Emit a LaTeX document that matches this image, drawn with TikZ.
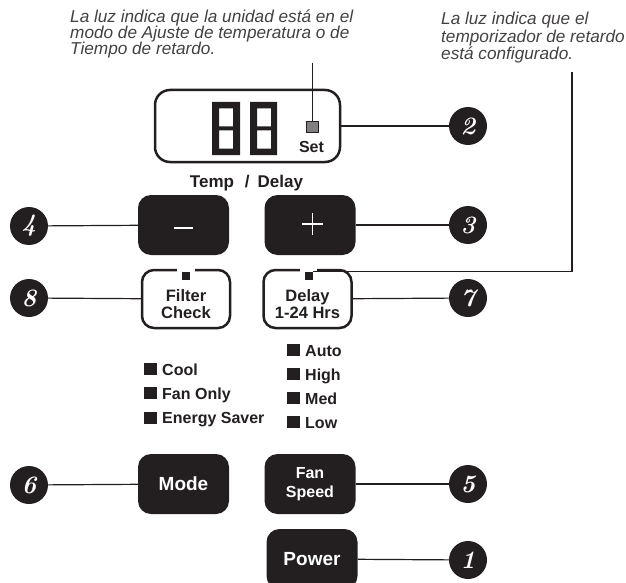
\documentclass[tikz,border=0pt]{standalone}
\usepackage{fontspec}
\setsansfont{Liberation Sans}
\usetikzlibrary{positioning}
\definecolor{ink}{RGB}{35,31,32}
\newcommand{\ledsq}{\rule{12.5pt}{12pt}\hspace{5.5pt}}

\begin{document}
\begin{tikzpicture}[x=1pt,y=-1pt,
  conn/.style={draw=ink,line width=1.2pt},
  btn/.style={fill=ink,text=white,rounded corners=13pt,minimum width=91pt,minimum height=60pt,inner sep=0pt,align=center,font=\sffamily\bfseries\fontsize{19}{19}\selectfont},
  obtn/.style={draw=ink,fill=white,line width=2.5pt,rounded corners=12pt,minimum width=88pt,minimum height=58pt,inner sep=0pt},
  btxt/.style={inner sep=0pt,align=center,text=ink,font=\sffamily\bfseries\fontsize{16.5}{16.5}\selectfont},
  led/.style={fill=ink,minimum size=8pt,inner sep=0pt},
  numc/.style={circle,fill=ink,text=white,minimum size=38pt,inner sep=0pt,font=\rmfamily\bfseries\itshape\fontsize{25}{25}\selectfont},
  mitem/.style={anchor=base west,inner sep=0pt,text=ink,font=\sffamily\bfseries\fontsize{16}{16}\selectfont},
  note/.style={anchor=north west,inner sep=0pt,align=left,text=ink!85,font=\sffamily\itshape\fontsize{17.2}{17.5}\selectfont}]
\useasboundingbox (0,0) rectangle (626,583);

% notes on top
\node[note,font=\sffamily\itshape\fontsize{17.2}{16.3}\selectfont] (noteleft) at (70,9.5) {La luz indica que la unidad está en el\\modo de Ajuste de temperatura o de\\Tiempo de retardo.};
\node[note] (noteright) at (441,12.3) {La luz indica que el\\temporizador de retardo\\está configurado.};

% display
\node[draw=ink,line width=2.5pt,rounded corners=15pt,minimum width=185pt,minimum height=72pt] (disp) at (247.5,126) {};
\fill[ink,even odd rule] (212,102) rectangle (240,155) (219,108.5) rectangle (233,126.5) (219,130.5) rectangle (233,148.5);
\fill[ink,even odd rule] (250,102) rectangle (277,155) (257,108.5) rectangle (271,126.5) (257,130.5) rectangle (271,148.5);
\node[fill=gray,draw=ink,line width=1pt,minimum width=12pt,minimum height=11pt,inner sep=0pt] (setled) at (312.5,127.5) {};
\node[inner sep=0pt,text=ink,font=\sffamily\bfseries\fontsize{16}{16}\selectfont] (setlbl) at (311.5,147) {Set};
\coordinate (settip) at (312.5,63);
\draw[conn] (settip) -- (setled.north);
\node[numc] (n2) at (468,126) {2};
\draw[conn] (disp.east) -- (n2);

% temp / delay
\node[inner sep=0pt,text=ink,font=\sffamily\bfseries\fontsize{17}{17}\selectfont] (temp) at (246.5,183) {Temp\hspace{11pt}/\hspace{8pt}Delay};
\node[btn] (minus) at (183.5,225) {};
\node[btn] (plus) at (310,225) {};
\draw[white,line width=1.6pt] ([xshift=-9.5pt,yshift=-3pt]minus.center) -- ([xshift=9.5pt,yshift=-3pt]minus.center);
\draw[white,line width=1.6pt] ([xshift=-8pt,yshift=1pt]plus.center) -- ([xshift=13pt,yshift=1pt]plus.center);
\draw[white,line width=1.6pt] ([xshift=2.5pt,yshift=12pt]plus.center) -- ([xshift=2.5pt,yshift=-10pt]plus.center);
\node[numc] (n4) at (29,226) {4};
\node[numc] (n3) at (468,225) {3};
\draw[conn] (n4) -- (minus);
\draw[conn] (plus) -- (n3);

% filter / delay
\node[obtn] (filter) at (186,299) {};
\node[obtn] (delay) at (307.5,299) {};
\fill[white] (177,266) rectangle (195,274.5);
\fill[white] (300,266) rectangle (317,274.5);
\node[led] (filterled) at (186,276) {};
\node[led] (delayled) at (308.5,276) {};
\node[btxt] (filtertxt) at ([yshift=-5pt]filter.center) {Filter\\Check};
\node[btxt] (delaytxt) at ([yshift=-5pt]delay.center) {Delay\\1-24 Hrs};
\coordinate (righttip) at (572,72);
\draw[conn] (righttip) |- (delayled.north east);
\node[numc] (n8) at (29,298) {8};
\node[numc] (n7) at (468,298) {7};
\draw[conn] (n8) -- (filter);
\draw[conn] (delay) -- (n7);

% indicator lists
\node[mitem] (cool) at (144,375) {\ledsq Cool};
\node[mitem] (fanonly) at (144,399) {\ledsq Fan Only};
\node[mitem] (esaver) at (144,423.5) {\ledsq Energy Saver};
\node[mitem] (auto) at (287,356) {\ledsq Auto};
\node[mitem] (high) at (287,380) {\ledsq High};
\node[mitem] (med) at (287,404) {\ledsq Med};
\node[mitem] (low) at (287,428) {\ledsq Low};

% mode / fan / power
\node[btn] (mode) at (183.5,484) {Mode};
\node[btn,font=\sffamily\bfseries\fontsize{16}{19}\selectfont] (fan) at (310,484) {Fan\\Speed};
\node[btn] (power) at (312,559) {Power};
\node[numc] (n6) at (29,485) {6};
\node[numc] (n5) at (468,484) {5};
\node[numc] (n1) at (468,560) {1};
\draw[conn] (n6) -- (mode);
\draw[conn] (fan) -- (n5);
\draw[conn] (power) -- (n1);
\end{tikzpicture}
\end{document}
